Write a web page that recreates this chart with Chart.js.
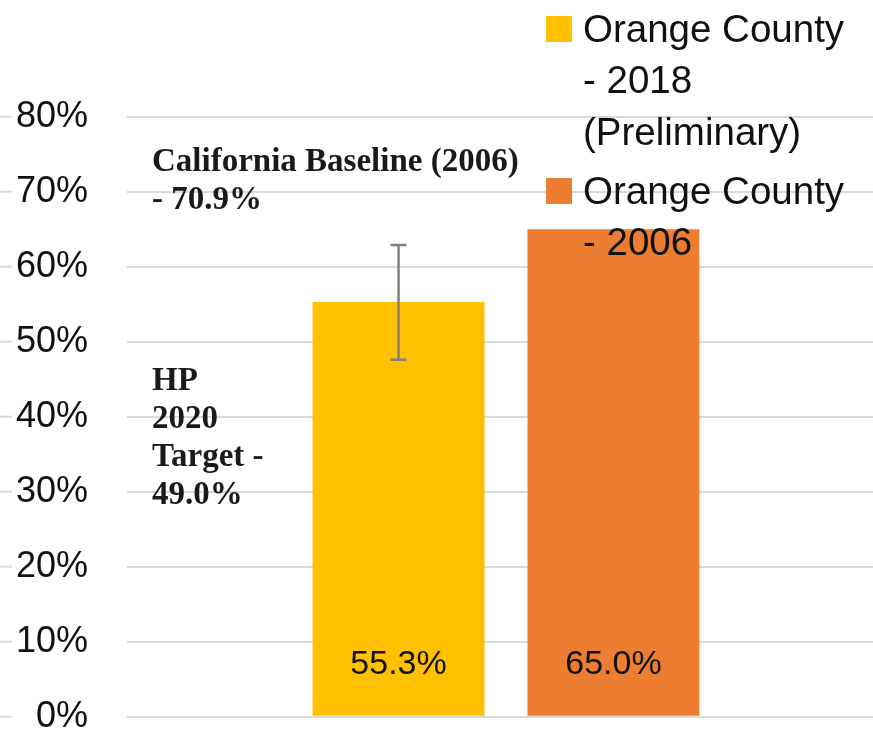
<!DOCTYPE html>
<html>
<head>
<meta charset="utf-8">
<script src="https://cdn.jsdelivr.net/npm/chart.js@4.4.0/dist/chart.umd.min.js"></script>
<style>
  html, body { margin: 0; padding: 0; overflow: hidden; background: #fff; }
  #wrap { position: relative; width: 885px; height: 731px; }
</style>
</head>
<body>
<div id="wrap"><canvas id="vaxChart"></canvas></div>
<script>
const categories = [''];
const seriesLabels = ['Orange County - 2018 (Preliminary)', 'Orange County - 2006'];
const legendLines = [['Orange County', '- 2018', '(Preliminary)'], ['Orange County', '- 2006']];
const values2018 = [55.3];
const values2006 = [65.0];
const err2018Low = [47.6];
const err2018High = [62.9];
const yTicks = [0, 10, 20, 30, 40, 50, 60, 70, 80];
const baselineText = ['California Baseline (2006)', '- 70.9%'];
const targetText = ['HP', '2020', 'Target -', '49.0%'];

const yellow = '#FFC000';
const orange = '#ED7D31';
const gridColor = '#d9d9d9';

// little grey stubs left of the tick labels, error bar, value labels, notes, legend
const extras = {
    id: 'extras',
    beforeDatasetsDraw(chart) {
        const ctx = chart.ctx;
        const y = chart.scales.y;
        ctx.save();
        ctx.strokeStyle = gridColor;
        ctx.lineWidth = 2;
        yTicks.forEach((v) => {
            const py = y.getPixelForValue(v);
            ctx.beginPath();
            ctx.moveTo(0, py);
            ctx.lineTo(12, py);
            ctx.stroke();
        });
        ctx.restore();
    },
    afterDatasetsDraw(chart) {
        const ctx = chart.ctx;
        const y = chart.scales.y;
        const area = chart.chartArea;
        ctx.save();

        // error bar on the 2018 bar
        const bar = chart.getDatasetMeta(0).data[0];
        ctx.strokeStyle = '#7f7f7f';
        ctx.lineWidth = 2.5;
        const top = y.getPixelForValue(err2018High[0]);
        const bot = y.getPixelForValue(err2018Low[0]);
        ctx.beginPath();
        ctx.moveTo(bar.x, top); ctx.lineTo(bar.x, bot);
        ctx.moveTo(bar.x - 8, top); ctx.lineTo(bar.x + 8, top);
        ctx.moveTo(bar.x - 8, bot); ctx.lineTo(bar.x + 8, bot);
        ctx.stroke();

        // value labels at the bottom of each bar
        ctx.fillStyle = '#111';
        ctx.font = '34px "Liberation Sans", Arial, sans-serif';
        ctx.textAlign = 'center';
        ctx.textBaseline = 'middle';
        chart.data.datasets.forEach((ds, i) => {
            const b = chart.getDatasetMeta(i).data[0];
            ctx.fillText(ds.data[0].toFixed(1) + '%', b.x, b.base - 51);
        });

        // notes
        ctx.font = 'bold 33px "Liberation Serif", "Times New Roman", serif';
        ctx.textAlign = 'left';
        ctx.fillStyle = '#1a1a1a';
        baselineText.forEach((t, i) => ctx.fillText(t, 152, area.top + 46 + i * 38));
        targetText.forEach((t, i) => ctx.fillText(t, 152, area.top + 265 + i * 38));

        // legend
        const itemTops = [29, 191];
        const colors = [yellow, orange];
        ctx.font = '38.5px "Liberation Sans", Arial, sans-serif';
        legendLines.forEach((lines, i) => {
            ctx.fillStyle = colors[i];
            ctx.fillRect(546, itemTops[i] - 13, 26, 26);
            ctx.fillStyle = '#111';
            lines.forEach((t, j) => ctx.fillText(t, 583, itemTops[i] + 2 + j * 51.5));
        });
        ctx.restore();
    }
};

const vaxChart = new Chart(document.getElementById('vaxChart'), {
    type: 'bar',
    data: {
        labels: categories,
        datasets: [{
            label: seriesLabels[0],
            data: values2018,
            backgroundColor: yellow,
            categoryPercentage: 0.567,
            barPercentage: 0.8
        }, {
            label: seriesLabels[1],
            data: values2006,
            backgroundColor: orange,
            categoryPercentage: 0.567,
            barPercentage: 0.8
        }]
    },
    options: {
        responsive: true,
        maintainAspectRatio: false,
        animation: false,
        layout: { padding: { top: 116.7, bottom: 14.3, left: 0, right: 0 } },
        plugins: {
            legend: { display: false },
            tooltip: { enabled: false }
        },
        scales: {
            x: { display: false },
            y: {
                min: 0,
                max: 80,
                afterFit: (scale) => {
                    scale.width = 127;
                    // tick padding is horizontal here, don't let it eat vertical space
                    scale.paddingTop = 0;
                    scale.paddingBottom = 0;
                },
                afterBuildTicks: (scale) => { scale.ticks = yTicks.map((v) => ({ value: v })); },
                border: { display: false },
                grid: { color: gridColor, lineWidth: 2, drawTicks: false },
                ticks: {
                    padding: 39,
                    color: '#111',
                    font: { family: '"Liberation Sans", Arial, sans-serif', size: 36 },
                    callback: (v) => v + '%'
                }
            }
        }
    },
    plugins: [extras]
});
</script>
</body>
</html>
